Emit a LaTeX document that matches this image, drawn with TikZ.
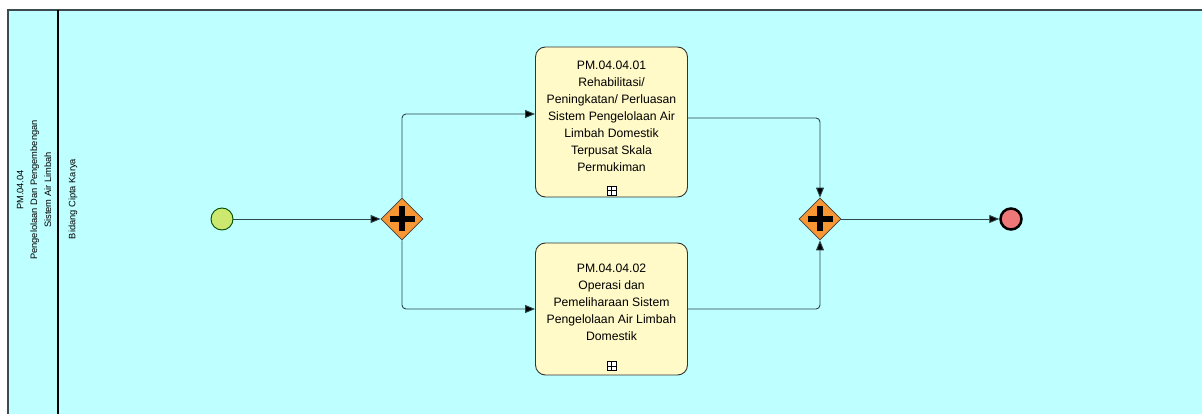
\documentclass[tikz,border=0pt]{standalone}
\usepackage{fontspec}
\setmainfont{Liberation Sans}
\usetikzlibrary{arrows.meta,shapes.geometric,calc}
\definecolor{poolbg}{RGB}{190,255,255}
\definecolor{poolline}{RGB}{60,75,80}
\definecolor{taskfill}{RGB}{255,250,200}
\definecolor{gwfill}{RGB}{247,150,50}
\definecolor{startfill}{RGB}{205,232,110}
\definecolor{endfill}{RGB}{238,120,120}
\definecolor{flowc}{RGB}{45,70,75}
\tikzset{
  taskbox/.style={draw=black!80, fill=taskfill, rounded corners=10pt, line width=0.9pt,
    minimum width=152pt, minimum height=#1, inner sep=0pt},
  tasktext/.style={align=center, font=\fontsize{12.2}{17}\selectfont, inner sep=0pt},
  gateway/.style={diamond, draw=black!75, fill=gwfill, minimum width=42pt, minimum height=42pt,
    inner sep=0pt, line width=0.8pt,
    path picture={\draw[line width=5.5pt, black] ($(path picture bounding box.center)+(-12.5pt,0)$) -- ($(path picture bounding box.center)+(12.5pt,0)$);
                  \draw[line width=5.5pt, black] ($(path picture bounding box.center)+(0,-12.5pt)$) -- ($(path picture bounding box.center)+(0,12.5pt)$);}},
  startev/.style={circle, draw=black!70!green, fill=startfill, minimum size=22pt, inner sep=0pt, line width=0.9pt},
  endev/.style={circle, draw=black, fill=endfill, minimum size=21pt, inner sep=0pt, line width=2.5pt},
  submarker/.style={draw=black, fill=white, minimum size=9pt, inner sep=0pt, line width=0.8pt,
    path picture={\draw[line width=0.8pt] (path picture bounding box.north) -- (path picture bounding box.south);
                  \draw[line width=0.8pt] (path picture bounding box.west) -- (path picture bounding box.east);}},
  flow/.style={draw=flowc, line width=0.9pt, rounded corners=4pt, -{Triangle[length=10pt,width=8pt,fill=black]}},
  lanetext/.style={rotate=90, align=center, font=\fontsize{9.3}{13.8}\selectfont, inner sep=0pt}
}
\begin{document}
\begin{tikzpicture}[x=1pt,y=-1pt]
\useasboundingbox (0,0) rectangle (1202,414);
\fill[white] (0,0) rectangle (1202,414);
\fill[poolbg] (8,10) rectangle (1202,414);
\draw[poolline, line width=1.6pt] (8,414) -- (8,10) -- (1202,10);
\draw[black, line width=2pt] (58,10) -- (58,414);
\node[lanetext] (poollabel) at (34,190) {PM.04.04\\Pengelolaan Dan Pengembengan\\Sistem Air Limbah};
\node[lanetext] (lanelabel) at (73,199) {Bidang Cipta Karya};

\node[startev] (start) at (222,219) {};
\node[gateway] (g1) at (402,219) {};
\node[taskbox=150pt] (t1) at (611.5,122) {};
\node[tasktext] (t1l) at (611.5,116.5) {PM.04.04.01\\Rehabilitasi/\\Peningkatan/ Perluasan\\Sistem Pengelolaan Air\\Limbah Domestik\\Terpusat Skala\\Permukiman};
\node[submarker] (m1) at (611.5,190.5) {};
\node[taskbox=132pt] (t2) at (611.5,309) {};
\node[tasktext] (t2l) at (611.5,302.5) {PM.04.04.02\\Operasi dan\\Pemeliharaan Sistem\\Pengelolaan Air Limbah\\Domestik};
\node[submarker] (m2) at (611.5,366) {};
\node[gateway] (g2) at (820,219) {};
\node[endev] (end) at (1011,219) {};

\draw[flow] (start) -- (g1);
\draw[flow] (g1.north) |- ([yshift=8pt]t1.west);
\draw[flow] (g1.south) |- (t2.west);
\draw[flow] ([yshift=4pt]t1.east) -| (g2.north);
\draw[flow] (t2.east) -| (g2.south);
\draw[flow] (g2) -- (end);
\end{tikzpicture}
\end{document}
